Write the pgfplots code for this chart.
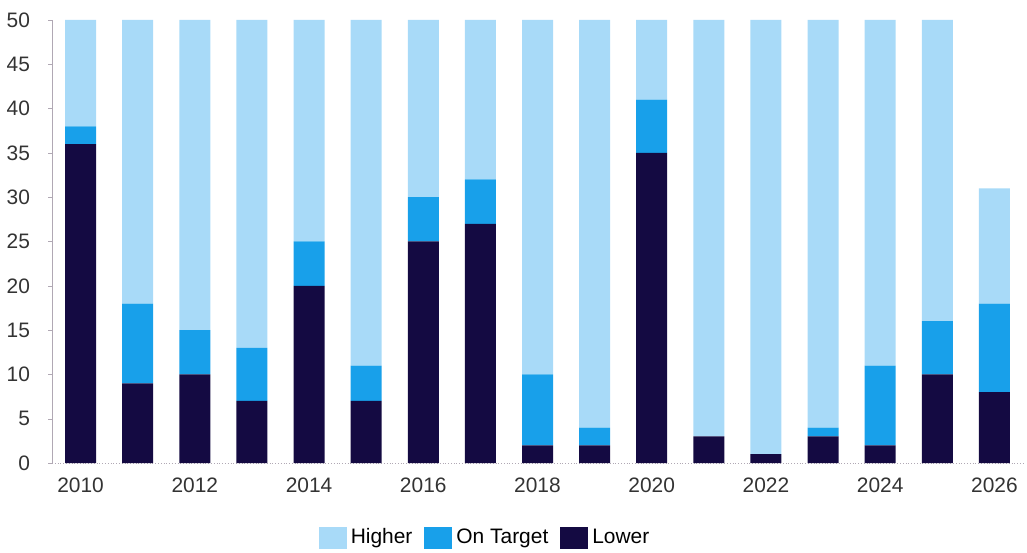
\documentclass[border=0pt]{standalone}
\usepackage{pgfplots}
\pgfplotsset{compat=1.18}
\usepackage{pgfplotstable}
\usepackage{fontspec}
\setmainfont{Liberation Sans}
\definecolor{higher}{HTML}{A8DAF8}
\definecolor{ontarget}{HTML}{18A0EA}
\definecolor{lower}{HTML}{140A42}
\definecolor{axgray}{HTML}{B0A8B4}
\pgfplotstableread{
year lower ontarget higher
2010 36 2 12
2011 9 9 32
2012 10 5 35
2013 7 6 37
2014 20 5 25
2015 7 4 39
2016 25 5 20
2017 27 5 18
2018 2 8 40
2019 2 2 46
2020 35 6 9
2021 3 0 47
2022 1 0 49
2023 3 1 46
2024 2 9 39
2025 10 6 34
2026 8 10 13
}\data
\begin{document}
\begin{tikzpicture}
\begin{axis}[
  at={(0,0)}, anchor=south west,
  scale only axis,
  width=485.5bp, height=221.5bp,
  ybar stacked,
  bar width=15.5bp,
  xmin=2009.5, xmax=2026.5,
  ymin=0, ymax=50,
  ytick={0,5,...,50},
  xtick={2010,2012,...,2026},
  x tick label style={/pgf/number format/1000 sep={}},
  /pgf/number format/assume math mode=true,
  tick label style={font=\fontsize{10.5}{12}\selectfont, text=black!80},
  axis x line*=bottom,
  axis y line*=left,
  axis line style={axgray, -},
  x axis line style={axgray, densely dotted},
  xtick style={draw=none},
  ytick style={axgray},
  tick align=outside,
  major tick length=2bp,
  yticklabel style={xshift=-5.5bp},
  xticklabel style={yshift=-2bp},
  legend style={at={(0.447,-0.169)}, anchor=center, draw=none,
    legend columns=3, font=\fontsize{10.5}{12}\selectfont,
    /tikz/every even column/.append style={column sep=4bp}},
  legend image code/.code={\draw[#1, draw=none] (0bp,-5.5bp) rectangle (14bp,5.5bp);},
  clip=false,
]
\addlegendimage{fill=higher}\addlegendentry{Higher}
\addlegendimage{fill=ontarget}\addlegendentry{On Target}
\addlegendimage{fill=lower}\addlegendentry{Lower}
\addplot[fill=lower, draw=none, forget plot] table[x=year, y=lower] {\data};
\addplot[fill=ontarget, draw=none, forget plot] table[x=year, y=ontarget] {\data};
\addplot[fill=higher, draw=none, forget plot] table[x=year, y=higher] {\data};
\end{axis}
\pgfresetboundingbox
\useasboundingbox (-26bp,-45bp) rectangle (487.5bp,231.5bp);
\end{tikzpicture}
\end{document}
